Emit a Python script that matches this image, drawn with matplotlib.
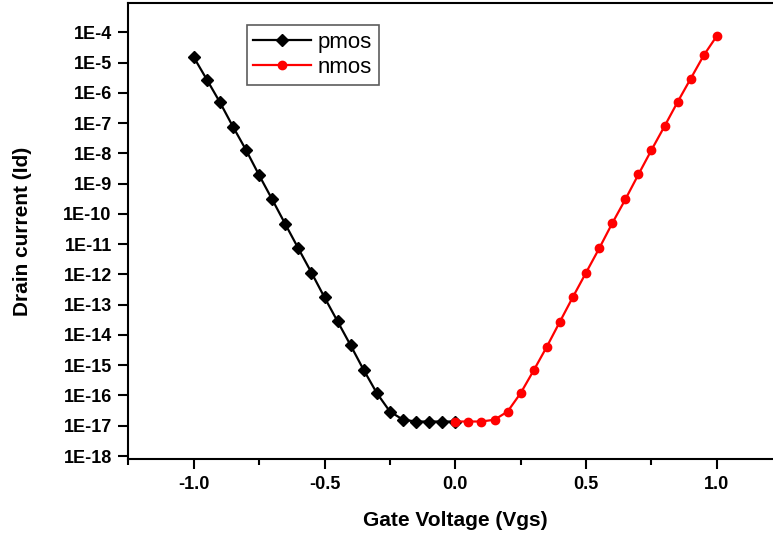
import matplotlib
matplotlib.use("Agg")
import matplotlib.pyplot as plt
from matplotlib.ticker import FixedLocator, FixedFormatter, MultipleLocator, NullLocator

plt.rcParams['font.family'] = ['Liberation Sans', 'DejaVu Sans']

vgs_p = [-1.00, -0.95, -0.90, -0.85, -0.80, -0.75, -0.70, -0.65, -0.60, -0.55, -0.50,
         -0.45, -0.40, -0.35, -0.30, -0.25, -0.20, -0.15, -0.10, -0.05, 0.00]
id_p = [1.51e-5, 2.75e-6, 4.9e-7, 7.6e-8, 1.29e-8, 1.9e-9, 3.0e-10, 4.6e-11, 7.2e-12,
        1.15e-12, 1.74e-13, 2.8e-14, 4.5e-15, 6.9e-16, 1.2e-16, 2.95e-17, 1.58e-17,
        1.38e-17, 1.38e-17, 1.38e-17, 1.38e-17]

vgs_n = [0.00, 0.05, 0.10, 0.15, 0.20, 0.25, 0.30, 0.35, 0.40, 0.45, 0.50,
         0.55, 0.60, 0.65, 0.70, 0.75, 0.80, 0.85, 0.90, 0.95, 1.00]
id_n = [1.38e-17, 1.38e-17, 1.38e-17, 1.58e-17, 2.95e-17, 1.2e-16, 6.8e-16, 4.1e-15,
        2.75e-14, 1.82e-13, 1.15e-12, 7.2e-12, 4.9e-11, 3.0e-10, 2.0e-9, 1.29e-8,
        7.9e-8, 5.0e-7, 2.95e-6, 1.74e-5, 7.6e-5]

ytick_vals = [10.0 ** (-k) for k in range(4, 19)]
ytick_labels = ["1E-%d" % k for k in range(4, 19)]
xtick_vals = [-1.0, -0.5, 0.0, 0.5, 1.0]
xtick_labels = ["-1.0", "-0.5", "0.0", "0.5", "1.0"]

fig = plt.figure(figsize=(7.73, 5.35), dpi=100)
ax = fig.add_axes([0.166, 0.142, 0.846, 0.852])

ax.plot(vgs_p, id_p, color='black', lw=1.6, marker='D', ms=6, label='pmos')
ax.plot(vgs_n, id_n, color='#ff0000', lw=1.6, marker='o', ms=6, label='nmos')

ax.set_yscale('log')
ax.set_xlim(-1.25, 1.25)
ax.set_ylim(10 ** -18.1, 10 ** -3.04)

ax.yaxis.set_major_locator(FixedLocator(ytick_vals))
ax.yaxis.set_major_formatter(FixedFormatter(ytick_labels))
ax.yaxis.set_minor_locator(NullLocator())
ax.xaxis.set_major_locator(FixedLocator(xtick_vals))
ax.xaxis.set_major_formatter(FixedFormatter(xtick_labels))
ax.xaxis.set_minor_locator(MultipleLocator(0.25))

ax.tick_params(axis='both', which='major', direction='out', length=7, width=1.5,
               labelsize=13, pad=5)
ax.tick_params(axis='x', which='minor', direction='out', length=4.5, width=1.5)
ax.tick_params(top=False, right=False)
for lab in ax.get_xticklabels() + ax.get_yticklabels():
    lab.set_fontweight('bold')
for sp in ax.spines.values():
    sp.set_linewidth(1.5)

ax.set_xlabel('Gate Voltage (Vgs)', fontsize=15, fontweight='bold')
ax.set_ylabel('Drain current (Id)', fontsize=15, fontweight='bold')
ax.xaxis.set_label_coords(0.5, -0.114)
ax.yaxis.set_label_coords(-0.148, 0.5)

leg = ax.legend(loc='upper left', bbox_to_anchor=(0.181, 0.952), fontsize=16,
                frameon=True, fancybox=False, handlelength=2.6, borderpad=0.3,
                labelspacing=0.2, handletextpad=0.3, borderaxespad=0)
leg.get_frame().set_edgecolor('#333333')
leg.get_frame().set_linewidth(1.2)

fig.savefig('out.png', dpi=100)
